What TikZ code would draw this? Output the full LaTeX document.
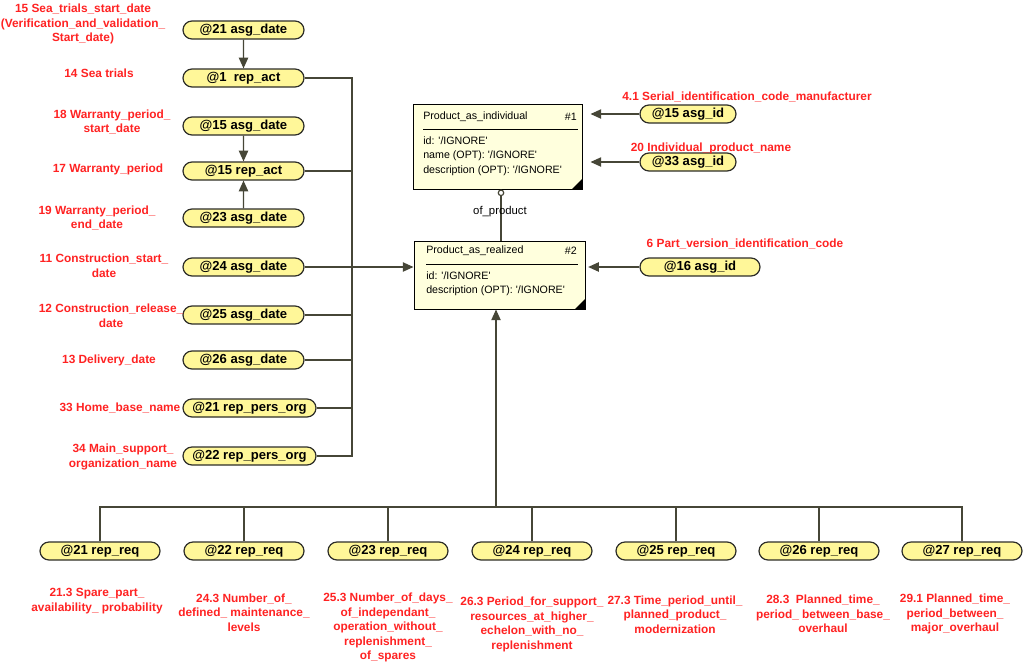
\documentclass[tikz,border=0pt]{standalone}
\usepackage{fontspec}
\setmainfont{Liberation Sans}
\usetikzlibrary{arrows.meta,shapes.misc}
\definecolor{pillfill}{RGB}{255,247,153}
\definecolor{pilledge}{RGB}{45,45,40}
\definecolor{entfill}{RGB}{255,255,221}
\definecolor{lblred}{RGB}{255,34,34}
\definecolor{linkcol}{RGB}{70,70,55}
\newcommand{\ignval}{\textquotesingle/IGNORE\textquotesingle}

\begin{document}
\begin{tikzpicture}[x=0.75pt,y=-0.75pt,
  pill/.style={rounded rectangle, draw=pilledge, line width=0.9pt, fill=pillfill,
    minimum height=13.5pt, inner sep=0pt, font=\fontsize{9.8}{11}\selectfont\bfseries},
  lbl/.style={text=lblred, align=center, inner sep=0pt, font=\fontsize{8.9}{10.9}\selectfont\bfseries},
  ent/.style={draw=black, line width=0.75pt, fill=entfill, inner sep=0pt},
  etxt/.style={inner sep=0pt, font=\fontsize{8}{9}\selectfont},
  link/.style={draw=linkcol, line width=0.9pt},
  >={Triangle[length=8pt,width=7pt]}]

\useasboundingbox (0,0) rectangle (1025,665);

% left column
\node[pill,minimum width=90.75pt] (d21) at (243.5,30) {@21 asg\_date};
\node[pill,minimum width=90.75pt] (act1) at (243.5,78) {@1\ \ rep\_act};
\node[pill,minimum width=90.75pt] (d15) at (243.5,126) {@15 asg\_date};
\node[pill,minimum width=90.75pt] (act15) at (243.5,171) {@15 rep\_act};
\node[pill,minimum width=90.75pt] (d23) at (243.5,218) {@23 asg\_date};
\node[pill,minimum width=90.75pt] (d24) at (243.5,267) {@24 asg\_date};
\node[pill,minimum width=90.75pt] (d25) at (243.5,315) {@25 asg\_date};
\node[pill,minimum width=90.75pt] (d26) at (243.5,360) {@26 asg\_date};
\node[pill,minimum width=99.75pt] (po21) at (249.5,408) {@21 rep\_pers\_org};
\node[pill,minimum width=99.75pt] (po22) at (249.5,456) {@22 rep\_pers\_org};

\node[lbl] (l15) at (83,24) {15 Sea\_trials\_start\_date\\(Verification\_and\_validation\_\\Start\_date)};
\node[lbl] (l14) at (99,73) {14 Sea trials};
\node[lbl] (l18) at (112,122) {18 Warranty\_period\_\\start\_date};
\node[lbl] (l17) at (108,169) {17 Warranty\_period};
\node[lbl] (l19) at (97,218) {19 Warranty\_period\_\\end\_date};
\node[lbl] (l11) at (104,266) {11 Construction\_start\_\\date};
\node[lbl] (l12) at (111,316) {12 Construction\_release\_\\date};
\node[lbl] (l13) at (109,360) {13 Delivery\_date};
\node[lbl] (l33) at (120,408) {33 Home\_base\_name};
\node[lbl] (l34) at (123,457) {34 Main\_support\_\\organization\_name};

% entities
\node[ent,minimum width=126.75pt,minimum height=63.75pt] (pai) at (497.5,146.5) {};
\node[etxt,anchor=west] (paih) at (423,117) {Product\_as\_individual};
\node[etxt,anchor=east] (pain) at (577,117) {\#1};
\draw (423,129) -- (578,129);
\node[etxt,anchor=west] (paia) at (423,141) {id: \ignval};
\node[etxt,anchor=west] (paib) at (423,156) {name (OPT): \ignval};
\node[etxt,anchor=west] (paic) at (423,171) {description (OPT): \ignval};
\fill (pai.south east) -- ++(-11,0) -- ++(11,-11) -- cycle;

\node[ent,minimum width=128.25pt,minimum height=51pt] (par) at (499.5,275) {};
\node[etxt,anchor=west] (parh) at (426,251) {Product\_as\_realized};
\node[etxt,anchor=east] (parn) at (577,251) {\#2};
\draw (426,264) -- (578,264);
\node[etxt,anchor=west] (para) at (426,276) {id: \ignval};
\node[etxt,anchor=west] (parb) at (426,291) {description (OPT): \ignval};
\fill (par.south east) -- ++(-11,0) -- ++(11,-11) -- cycle;

\coordinate (ofp) at (501,0);
\draw[link,-{Circle[open,length=5pt,width=5pt]}] (par.north -| ofp) -- (pai.south -| ofp);
\node[inner sep=0pt,font=\fontsize{8.5}{10}\selectfont] (ofl) at (500,212) {of\_product};

% right column
\node[pill,minimum width=72pt] (id15) at (688,114) {@15 asg\_id};
\node[pill,minimum width=72pt] (id33) at (688,162) {@33 asg\_id};
\node[pill,minimum width=90pt] (id16) at (700,267) {@16 asg\_id};
\node[lbl] (l41) at (747,97) {4.1 Serial\_identification\_code\_manufacturer};
\node[lbl] (l20) at (711,148) {20 Individual\_product\_name};
\node[lbl] (l6) at (745,244) {6 Part\_version\_identification\_code};

% bottom row
\foreach \n/\x in {21/100,22/244,23/388,24/532,25/676,26/819,27/962}{
\node[pill,minimum width=90pt] (rq\n) at (\x,551) {@\n\ rep\_req};}

\node[lbl] (l213) at (97,601) {21.3 Spare\_part\_\\availability\_ probability};
\node[lbl] (l243) at (244,612.5) {24.3 Number\_of\_\\defined\_ maintenance\_\\levels};
\node[lbl] (l253) at (388,627.5) {25.3 Number\_of\_days\_\\of\_independant\_\\operation\_without\_\\replenishment\_\\of\_spares};
\node[lbl] (l263) at (532,624.5) {26.3 Period\_for\_support\_\\resources\_at\_higher\_\\echelon\_with\_no\_\\replenishment};
\node[lbl] (l273) at (675,614.5) {27.3 Time\_period\_until\_\\planned\_product\_\\modernization};
\node[lbl] (l283) at (823,614) {28.3\ \ Planned\_time\_\\period\_ between\_base\_\\overhaul};
\node[lbl] (l291) at (955,614) {29.1 Planned\_time\_\\period\_between\_\\major\_overhaul};

% connectors
\draw[link,->] (d21) -- (act1);
\draw[link,->] (d15) -- (act15);
\draw[link,->] (d23) -- (act15);
\coordinate (bus) at (352,78);
\draw[link] (act1.east) -- (bus) -- (bus |- po22.east) -- (po22.east);
\foreach \n in {act15,d25,d26,po21}{
\draw[link] (\n.east) -- (\n.east -| bus);}
\draw[link,->] (d24.east) -- (par.west |- d24.east);
\draw[link,->,shorten >=6pt] (id15.west) -- (pai.east |- id15.west);
\draw[link,->,shorten >=6pt] (id33.west) -- (pai.east |- id33.west);
\draw[link,->,shorten >=2pt] (id16.west) -- (par.east |- id16.west);

\coordinate (hb) at (496,507);
\draw[link,->] (hb) -- (hb |- par.south);
\draw[link] (rq21.north) |- (hb) -| (rq27.north);
\foreach \n in {22,...,26}{
\draw[link] (rq\n.north) -- (rq\n.north |- hb);}
\end{tikzpicture}
\end{document}
